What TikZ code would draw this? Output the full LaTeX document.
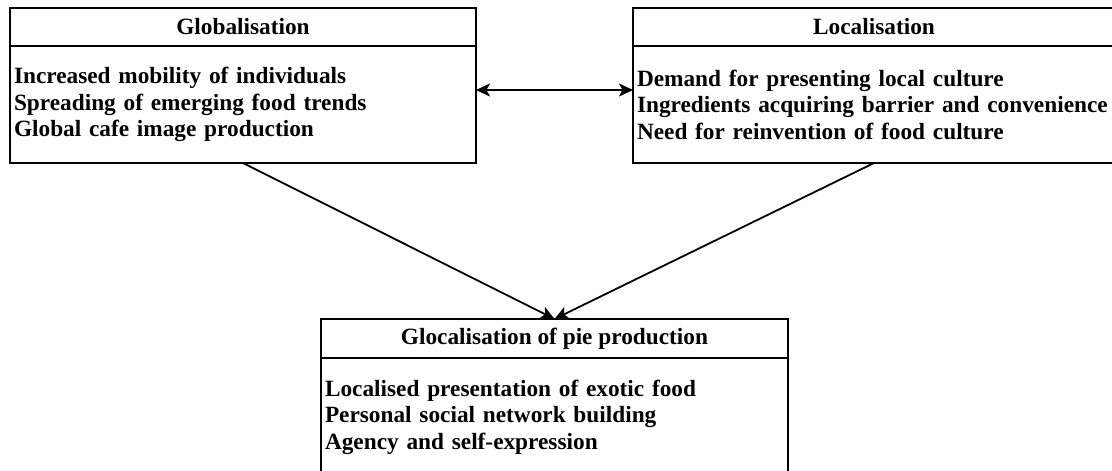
\documentclass[tikz,border=0pt]{standalone}
\usepackage{fontspec}
\setmainfont{Liberation Serif}
\usetikzlibrary{arrows.meta,positioning}

\begin{document}
\begin{tikzpicture}[x=1pt,y=-1pt,
		headbox/.style={draw, line width=2.2pt, outer sep=0pt, inner sep=0pt, minimum height=38pt, font=\fontsize{23.3}{26}\selectfont\bfseries},
		bodybox/.style={draw, line width=2.2pt, outer sep=0pt, inner xsep=4pt, inner ysep=0pt, align=left, font=\fontsize{23.3}{26.5}\selectfont\bfseries},
		flow/.style={line width=1.8pt, -{Stealth[length=14pt,width=13pt,inset=3.5pt]}}]
		\useasboundingbox (0,0) rectangle (1112,471);
		\fill[white] (0,0) rectangle (1112,471);
		\clip (0,0) rectangle (1112,471);

		\node[headbox, minimum width=466pt] (globtitle) at (243,27) {Globalisation};
		\node[bodybox, below=0pt of globtitle, text width=458pt, minimum height=117pt] (globbody) {Increased mobility of individuals\\Spreading of emerging food trends\\Global cafe image production};

		\node[headbox, minimum width=482pt] (loctitle) at (874,27) {Localisation};
		\node[bodybox, below=0pt of loctitle, text width=474pt, minimum height=117pt] (locbody) {Demand for presenting local culture\\Ingredients acquiring barrier and convenience\\Need for reinvention of food culture};

		\node[headbox, minimum width=467pt, minimum height=39pt] (pietitle) at (554.5,338.5) {Glocalisation of pie production};
		\node[bodybox, below=0pt of pietitle, text width=459pt, minimum height=118pt] (piebody) {Localised presentation of exotic food\\Personal social network building\\Agency and self-expression};

		\draw[flow, {Stealth[length=14pt,width=13pt,inset=3.5pt]}-{Stealth[length=14pt,width=13pt,inset=3.5pt]}] ([yshift=14.5pt]globbody.east) -- ([yshift=14.5pt]locbody.west);

		\draw[flow] (globbody.south) -- (pietitle.north);
		\draw[flow] (locbody.south) -- (pietitle.north);
	\end{tikzpicture}
\end{document}
